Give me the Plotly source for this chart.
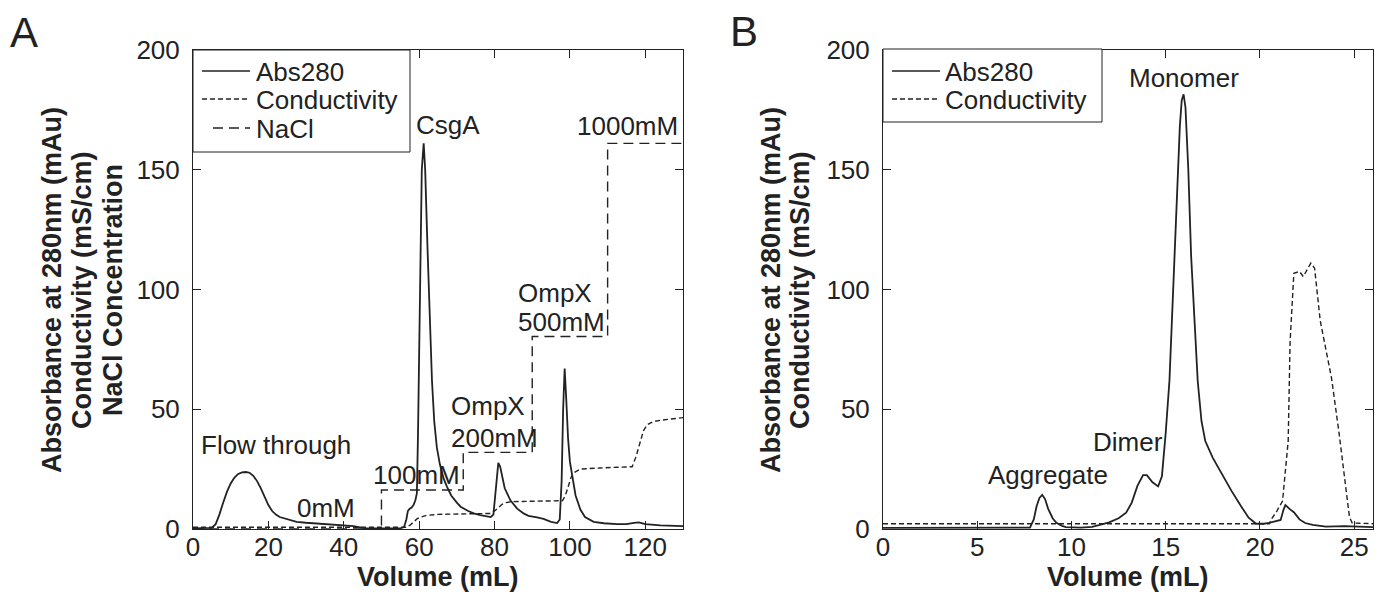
import plotly.graph_objects as go

# ---------------- Panel A data ----------------
a_abs_x = [0, 3, 5, 6, 7, 8, 9, 10, 11, 12, 13, 14, 15, 16, 17, 18, 19, 20, 21, 22, 23, 25, 27.5,
           30, 33, 36.4, 40, 42.6, 45, 46, 50, 55, 56, 56.6, 57, 57.5, 58, 58.5, 59, 59.4, 59.7,
           60.0, 60.3, 60.7, 61.2, 61.6, 62.2, 62.8, 63.4, 64, 64.7, 65.5, 66.5, 67.4, 68.5, 70,
           71, 73, 74.5, 76.2, 78, 79, 79.7, 80.2, 80.6, 81, 81.5, 82, 82.7, 84.2, 86, 87.7, 89,
           91.3, 93, 95, 96.6, 97.3, 97.8, 98.2, 98.6, 99, 99.5, 100, 100.6, 101.5, 102.8, 104,
           106.3, 109, 112.5, 115, 117, 118.3, 120, 124, 130]
a_abs_y = [0.3, 0.3, 0.5, 2, 6, 11, 15.5, 19, 21.5, 23, 23.6, 23.8, 23.5, 22.2, 20, 17, 13.5, 10,
           7.5, 6, 5, 4, 3, 2.6, 2.3, 2, 1.6, 1.2, 0.5, 0.2, 0.2, 0.3, 0.8, 4, 7.5, 8.5, 9, 10, 12,
           15, 40, 80, 118, 150, 161, 150, 118, 85, 62, 45, 34, 27, 21, 17.6, 14, 11, 9.3, 7.5,
           6.5, 5.8, 5.2, 5, 6, 14, 23, 27.6, 26, 22, 17, 12, 8.5, 6.5, 5.5, 4.9, 4.2, 3, 2.5, 4,
           20, 50, 67, 55, 38, 28, 22, 14, 8, 5, 3, 2.4, 2, 2, 2.6, 2.8, 2, 1.5, 1.2]

a_cond_x = [0, 56.5, 57.5, 58.5, 59.5, 60.5, 62, 65, 70, 75, 79, 80, 81, 82, 83, 84.5, 90, 98,
            98.8, 99.6, 100.3, 101, 102.8, 108, 116.5, 117.5, 118.5, 119.5, 120.5, 122, 124, 127, 130]
a_cond_y = [0.7, 0.7, 1.5, 3, 4.3, 5, 5.7, 6.1, 6.3, 6.4, 6.5, 7.5, 9, 10.3, 11, 11.4, 11.6, 11.8,
            14, 18, 21.5, 23.5, 25, 25.5, 26, 30, 36, 41, 43.5, 44.8, 45.4, 46, 46.5]

a_nacl_x = [0, 50, 71.7, 90, 110, 130]
a_nacl_y = [0, 16.3, 32, 80.4, 161, 161]

a_labels = ["Flow through", "0mM", "100mM", "OmpX", "200mM", "CsgA", "OmpX", "500mM", "1000mM"]
a_label_x = [21.9, 35.4, 59.2, 67.8, 67.8, 67.6, 85.8, 85.8, 115.3]
a_label_y = [35, 8.7, 22.5, 51.3, 37.9, 168.7, 98.5, 86.4, 168.3]
a_label_anchor = ["center", "center", "center", "left", "left", "center", "left", "left", "center"]

# ---------------- Panel B data ----------------
b_abs_x = [0, 7.5, 7.8, 8.0, 8.15, 8.3, 8.45, 8.6, 8.76, 9.0, 9.2, 9.5, 9.7, 10.5, 11.1, 11.5,
           12.0, 12.5, 12.9, 13.2, 13.5, 13.8, 14.0, 14.3, 14.6, 14.8, 15.0, 15.2, 15.47, 15.75,
           15.85, 15.95, 16.05, 16.2, 16.35, 16.7, 16.9, 17.1, 17.5, 18.0, 18.5, 19.0, 19.4, 19.8,
           20.2, 20.5, 21.1, 21.25, 21.35, 21.6, 21.8, 22.1, 22.4, 22.8, 23.5, 24.5, 25.6, 26]
b_abs_y = [0.5, 0.3, 0.6, 4, 9.5, 13, 14.2, 12.5, 8.5, 4.5, 2.6, 1.3, 0.8, 0.6, 0.9, 1.7, 2.8,
           4.5, 6.8, 11, 18, 22.5, 22.5, 19.5, 17.8, 22, 40, 62, 114, 168, 179, 181.5, 176, 150,
           114, 61.7, 45, 36.7, 29.7, 22.5, 15.8, 9.5, 4.7, 2.2, 2.2, 2.6, 3.8, 8, 10, 8.2, 7, 4,
           2.5, 1.7, 1, 1.2, 1, 0.8]

b_cond_x = [0, 20.5, 20.6, 20.9, 21.2, 21.5, 21.6, 21.8, 22.1, 22.3, 22.7, 22.9, 23.2, 23.5,
            23.8, 24.2, 24.5, 24.75, 24.9, 26]
b_cond_y = [2.2, 2.2, 4, 7.5, 11.7, 36.7, 78, 106.8, 107.5, 105.4, 111, 108.9, 87, 75, 63, 40,
            20, 5, 2.5, 2.2]

b_labels = ["Monomer", "Dimer", "Aggregate"]
b_label_x = [15.95, 13.0, 8.75]
b_label_y = [188.3, 36.2, 22.5]

series_names = ["Abs280", "Conductivity", "NaCl"]
y_ticks = [0, 50, 100, 150, 200]
a_x_ticks = [0, 20, 40, 60, 80, 100, 120]
b_x_ticks = [0, 5, 10, 15, 20, 25]

# ---------------- Figure ----------------
W, H = 1383, 595
ML, MR, MT, MB = 0, 0, 50, 66
INK = "#222222"
FONT = "Liberation Sans, Arial, sans-serif"

SOLID = dict(color=INK, width=1.8)
SHORT = dict(color=INK, width=1.4, dash="5px,3px")
LONG = dict(color=INK, width=1.4, dash="10px,6px")


def px_x(p):
    return p / W


def px_y(p):
    return (H - MB - p) / (H - MT - MB)


fig = go.Figure()

fig.add_trace(go.Scatter(x=a_abs_x, y=a_abs_y, mode="lines", name=series_names[0],
                         line=SOLID, xaxis="x", yaxis="y"))
fig.add_trace(go.Scatter(x=a_cond_x, y=a_cond_y, mode="lines", name=series_names[1],
                         line=SHORT, xaxis="x", yaxis="y"))
fig.add_trace(go.Scatter(x=a_nacl_x, y=a_nacl_y, mode="lines", name=series_names[2],
                         line=dict(LONG, shape="hv"), xaxis="x", yaxis="y"))

fig.add_trace(go.Scatter(x=b_abs_x, y=b_abs_y, mode="lines", name=series_names[0],
                         line=SOLID, xaxis="x2", yaxis="y2"))
fig.add_trace(go.Scatter(x=b_cond_x, y=b_cond_y, mode="lines", name=series_names[1],
                         line=SHORT, xaxis="x2", yaxis="y2"))

axis_common = dict(showline=True, linecolor=INK, linewidth=1, mirror="ticks", ticks="inside",
                   ticklen=8, tickwidth=1, tickcolor=INK, showgrid=False, zeroline=False,
                   tickfont=dict(family=FONT, size=26, color=INK))

dom_a = [px_x(193), px_x(683)]
dom_b = [px_x(883), px_x(1373)]

fig.update_layout(
    width=W, height=H,
    margin=dict(l=ML, r=MR, t=MT, b=MB, autoexpand=False),
    paper_bgcolor="white", plot_bgcolor="white",
    font=dict(family=FONT, color=INK),
    xaxis=dict(domain=dom_a, range=[0, 130], tickvals=a_x_ticks, anchor="y",
               ticklabelstandoff=-5, **axis_common),
    yaxis=dict(domain=[0, 1], range=[0, 200], tickvals=y_ticks, anchor="x",
               ticklabelstandoff=7, **axis_common),
    xaxis2=dict(domain=dom_b, range=[0, 26], tickvals=b_x_ticks, anchor="y2",
                ticklabelstandoff=-5, **axis_common),
    yaxis2=dict(domain=[0, 1], range=[0, 200], tickvals=y_ticks, anchor="x2",
                ticklabelstandoff=7, **axis_common),
    showlegend=False,
)

annotations = []
shapes = []

# in-plot labels, panel A
for t, x, y, anc in zip(a_labels, a_label_x, a_label_y, a_label_anchor):
    annotations.append(dict(text=t, x=x, y=y, xref="x", yref="y", xanchor=anc, yanchor="middle",
                            showarrow=False, font=dict(family=FONT, size=26, color=INK)))
# in-plot labels, panel B
for t, x, y in zip(b_labels, b_label_x, b_label_y):
    annotations.append(dict(text=t, x=x, y=y, xref="x2", yref="y2", xanchor="center",
                            yanchor="middle", showarrow=False,
                            font=dict(family=FONT, size=26, color=INK)))

title_font = dict(family=FONT, size=27, color=INK)
# x axis titles
for cx in [(193 + 683) / 2, (883 + 1373) / 2]:
    annotations.append(dict(text="<b>Volume (mL)</b>", x=px_x(cx), y=px_y(577), xref="paper",
                            yref="paper", xanchor="center", yanchor="middle", showarrow=False,
                            font=title_font))
# y axis titles (one annotation per line)
ya_lines = ["Absorbance at 280nm (mAu)", "Conductivity (mS/cm)", "NaCl Concentration"]
ya_pos = [52, 82, 113]
for t, p in zip(ya_lines, ya_pos):
    annotations.append(dict(text="<b>" + t + "</b>", x=px_x(p), y=px_y(290), xref="paper",
                            yref="paper", xanchor="center", yanchor="middle", textangle=-90,
                            showarrow=False, font=title_font))
yb_lines = ["Absorbance at 280nm (mAu)", "Conductivity (mS/cm)"]
yb_pos = [771, 800]
for t, p in zip(yb_lines, yb_pos):
    annotations.append(dict(text="<b>" + t + "</b>", x=px_x(p), y=px_y(290), xref="paper",
                            yref="paper", xanchor="center", yanchor="middle", textangle=-90,
                            showarrow=False, font=title_font))
# panel letters
for t, cx, cy in [("A", 24, 32), ("B", 744, 31)]:
    annotations.append(dict(text=t, x=px_x(cx), y=px_y(cy), xref="paper", yref="paper",
                            xanchor="center", yanchor="middle", showarrow=False,
                            font=dict(family=FONT, size=42, color=INK)))


# legend boxes (drawn as layout shapes + text)
def add_legend(x0, x1, y0, y1, entries):
    shapes.append(dict(type="rect", xref="paper", yref="paper", x0=px_x(x0), x1=px_x(x1),
                       y0=px_y(y1), y1=px_y(y0), line=dict(color=INK, width=1),
                       fillcolor="white", layer="above"))
    for name, style, ly, lx0, lx1, tx in entries:
        shapes.append(dict(type="line", xref="paper", yref="paper", x0=px_x(lx0), x1=px_x(lx1),
                           y0=px_y(ly), y1=px_y(ly), line=dict(style, width=1.3),
                           layer="above"))
        annotations.append(dict(text=name, x=px_x(tx), y=px_y(ly + 1), xref="paper",
                                yref="paper", xanchor="left", yanchor="middle",
                                showarrow=False, font=dict(family=FONT, size=26, color=INK)))


add_legend(193, 410, 50, 152, [
    (series_names[0], SOLID, 71, 202, 250, 254),
    (series_names[1], SHORT, 99, 202, 250, 254),
    (series_names[2], LONG, 128, 213, 250, 254),
])
add_legend(883, 1102, 49, 122, [
    (series_names[0], SOLID, 71, 892, 940, 943),
    (series_names[1], SHORT, 99, 892, 940, 943),
])

fig.update_layout(annotations=annotations, shapes=shapes)

fig.write_html("out.html", config={"displayModeBar": False},
               post_script="document.body.style.margin='0';")
